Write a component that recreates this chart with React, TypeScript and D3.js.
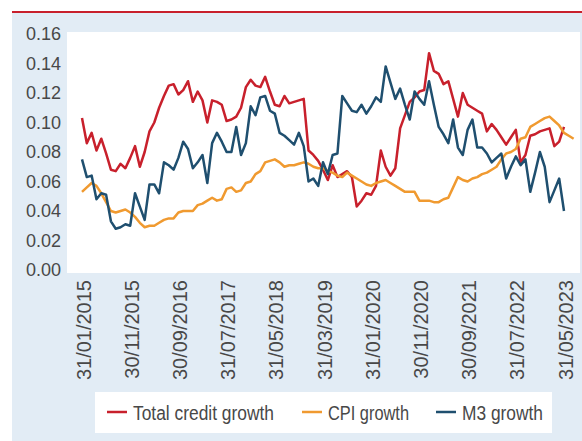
import React, { useEffect, useRef } from 'react';
import * as d3 from 'd3';

// monthly observations, Jan 2015 onwards
const creditGrowth = [
  0.103, 0.086, 0.093, 0.081, 0.089, 0.079, 0.068, 0.067, 0.072, 0.069,
  0.076, 0.084, 0.070, 0.080, 0.094, 0.100, 0.110, 0.118, 0.125, 0.126,
  0.119, 0.122, 0.128, 0.114, 0.121, 0.115, 0.100, 0.115, 0.114, 0.112,
  0.101, 0.102, 0.104, 0.110, 0.124, 0.129, 0.125, 0.124, 0.131, 0.121,
  0.112, 0.111, 0.118, 0.113, 0.114, 0.115, 0.116, 0.081, 0.078, 0.074,
  0.068, 0.061, 0.071, 0.063, 0.065, 0.067, 0.063, 0.043, 0.047, 0.052,
  0.051, 0.057, 0.081, 0.070, 0.064, 0.069, 0.096, 0.105, 0.114, 0.117,
  0.121, 0.122, 0.147, 0.135, 0.133, 0.126, 0.128, 0.116, 0.104, 0.120,
  0.112, 0.110, 0.108, 0.106, 0.094, 0.099, 0.095, 0.090, 0.085, 0.090,
  0.095, 0.073, 0.078, 0.091, 0.092, 0.094, 0.095, 0.096, 0.084, 0.087,
  0.097
];

const cpiGrowth = [
  0.053, 0.056, 0.059, 0.057, 0.052, 0.046, 0.040, 0.039, 0.040, 0.041,
  0.039, 0.036, 0.032, 0.029, 0.030, 0.030, 0.032, 0.034, 0.035, 0.035,
  0.039, 0.040, 0.040, 0.040, 0.044, 0.045, 0.047, 0.049, 0.047, 0.048,
  0.055, 0.056, 0.053, 0.054, 0.059, 0.060, 0.065, 0.067, 0.073, 0.074,
  0.075, 0.073, 0.070, 0.071, 0.071, 0.072, 0.073, 0.072, 0.070, 0.069,
  0.069, 0.067, 0.066, 0.064, 0.063, 0.066, 0.064, 0.062, 0.060, 0.058,
  0.057, 0.059, 0.060, 0.061, 0.059, 0.057, 0.055, 0.053, 0.053, 0.053,
  0.047, 0.047, 0.047, 0.046, 0.046, 0.048, 0.049, 0.056, 0.063, 0.061,
  0.060, 0.062, 0.063, 0.065, 0.066, 0.068, 0.070, 0.075, 0.079, 0.080,
  0.082, 0.089, 0.090, 0.097, 0.099, 0.101, 0.103, 0.104, 0.101, 0.098,
  0.093, 0.091, 0.089
];

const m3Growth = [
  0.075, 0.063, 0.064, 0.048, 0.052, 0.051, 0.033, 0.028, 0.029, 0.031,
  0.030, 0.052, 0.043, 0.034, 0.058, 0.058, 0.052, 0.073, 0.071, 0.068,
  0.076, 0.087, 0.082, 0.069, 0.073, 0.078, 0.059, 0.086, 0.093, 0.087,
  0.080, 0.080, 0.097, 0.078, 0.086, 0.111, 0.105, 0.117, 0.118, 0.108,
  0.106, 0.093, 0.091, 0.088, 0.085, 0.093, 0.084, 0.060, 0.062, 0.057,
  0.073, 0.065, 0.078, 0.079, 0.118, 0.113, 0.108, 0.107, 0.112, 0.106,
  0.111, 0.117, 0.114, 0.138, 0.127, 0.116, 0.123, 0.112, 0.102, 0.121,
  0.116, 0.112, 0.128, 0.112, 0.097, 0.092, 0.086, 0.102, 0.083, 0.078,
  0.095, 0.102, 0.083, 0.083, 0.079, 0.073, 0.076, 0.079, 0.062, 0.070,
  0.077, 0.071, 0.075, 0.053, 0.066, 0.080, 0.070, 0.046, 0.054, 0.062,
  0.040
];

const xTickLabels = [
  '31/01/2015', '30/11/2015', '30/09/2016', '31/07/2017', '31/05/2018',
  '31/03/2019', '31/01/2020', '30/11/2020', '30/09/2021', '31/07/2022',
  '31/05/2023'
];
const xTickStep = 10;
const yTicks = [0, 0.02, 0.04, 0.06, 0.08, 0.1, 0.12, 0.14, 0.16];

const series = [
  { name: 'Total credit growth', values: creditGrowth, color: '#c8202c' },
  { name: 'CPI growth', values: cpiGrowth, color: '#f09a30' },
  { name: 'M3 growth', values: m3Growth, color: '#1f4f6f' }
];

function App() {
  const ref = useRef<SVGSVGElement>(null);

  useEffect(() => {
    const svg = d3.select(ref.current);
    svg.selectAll('*').remove();

    const width = 582, height = 441;
    const font = '"Liberation Sans", Arial, sans-serif';
    const textColor = '#484848';

    svg.append('rect').attr('x', 12).attr('y', 13).attr('width', width - 12).attr('height', height - 13).attr('fill', '#e2ecf5');
    svg.append('rect').attr('x', 12).attr('y', 11).attr('width', width - 12).attr('height', 2).attr('fill', '#c8202c');
    svg.append('rect').attr('x', 67).attr('y', 32).attr('width', 513).attr('height', 241).attr('fill', '#ffffff');

    const maxLen = d3.max(series, s => s.values.length)!;
    const x = d3.scaleLinear().domain([0, maxLen - 1]).range([82, 82 + (maxLen - 1) * 4.82]);
    const y = d3.scaleLinear().domain([0, 0.16]).range([270, 34]);

    // y axis labels
    svg.append('g')
      .selectAll('text')
      .data(yTicks)
      .join('text')
      .attr('x', 61)
      .attr('y', d => y(d))
      .attr('dy', '0.35em')
      .attr('text-anchor', 'end')
      .attr('font-family', font)
      .attr('font-size', 18)
      .attr('fill', textColor)
      .text(d => d3.format('.2f')(d));

    // x axis labels, rotated
    svg.append('g')
      .selectAll('text')
      .data(xTickLabels)
      .join('text')
      .attr('transform', (d, i) => `translate(${x(i * xTickStep) + 1.5},280) rotate(-90)`)
      .attr('dy', '0.35em')
      .attr('text-anchor', 'end')
      .attr('font-family', font)
      .attr('font-size', 20)
      .attr('fill', textColor)
      .text(d => d);

    const line = d3.line<number>()
      .x((d, i) => x(i))
      .y(d => y(d));

    series.forEach(s => {
      svg.append('path')
        .datum(s.values)
        .attr('fill', 'none')
        .attr('stroke', s.color)
        .attr('stroke-width', 2.5)
        .attr('stroke-linejoin', 'round')
        .attr('d', line);
    });

    // legend (condensed type, squeezed to the original widths)
    const legend = svg.append('g');
    legend.append('rect').attr('x', 95).attr('y', 392).attr('width', 457).attr('height', 41).attr('fill', '#ffffff');
    const legendX = [107, 302, 436];
    const legendW = [141, 81, 81];
    series.forEach((s, i) => {
      legend.append('line')
        .attr('x1', legendX[i]).attr('x2', legendX[i] + 20)
        .attr('y1', 412).attr('y2', 412)
        .attr('stroke', s.color).attr('stroke-width', 2.5);
      legend.append('text')
        .attr('x', legendX[i] + 26)
        .attr('y', 420)
        .attr('font-family', font)
        .attr('font-size', 20)
        .attr('textLength', legendW[i])
        .attr('lengthAdjust', 'spacingAndGlyphs')
        .attr('fill', textColor)
        .text(s.name);
    });
  }, []);

  return (
    <svg ref={ref} width={582} height={441} style={{ position: 'absolute', left: 0, top: 0 }}></svg>
  );
}

export default App;
